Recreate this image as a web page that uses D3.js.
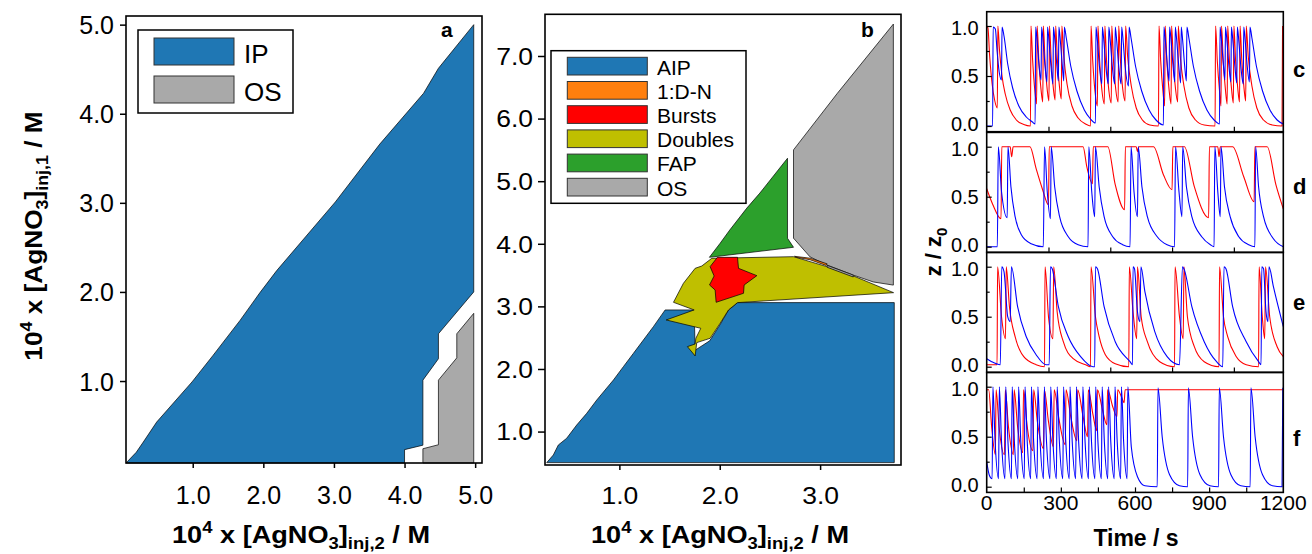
<!DOCTYPE html>
<html>
<head>
<meta charset="utf-8">
<script src="https://cdn.jsdelivr.net/npm/d3@7"></script>
<style>
  body { margin: 0; background: #fff; }
  svg { display: block; }
  text { font-family: "Liberation Sans", Arial, sans-serif; fill: #000; }
</style>
</head>
<body>
<svg id="fig" width="1312" height="554"></svg>
<script>
// ---------------- data ----------------
// Panel a: regions in the ([AgNO3]inj,2 , [AgNO3]inj,1) plane, units 1e-4 M
const regionIP_a = [[0.055,0.08],[0.2,0.2],[0.3,0.315],[0.49,0.54],[0.99,0.99],[1.29,1.29],[1.67,1.68],[1.95,1.99],[2.19,2.24],[3.02,3.01],[3.65,3.66],[4.27,4.23],[4.48,4.51],[4.98,5.0],
  [4.98,2.0],[4.48,1.53],[4.48,1.25],[4.26,1.01],[4.26,0.28],[4.0,0.23],[4.0,0.08]];
const regionOS_a = [[4.98,1.76],[4.74,1.53],[4.74,1.26],[4.48,1.01],[4.48,0.285],[4.26,0.24],[4.26,0.08],[4.98,0.08]];
const legendA = ["IP", "OS"];
const ticksAx = [1, 2, 3, 4, 5];
const ticksAy = [1, 2, 3, 4, 5];

// Panel b: regions of the second map
const regionAIP = [[0.276,0.504],[0.342,0.626],[0.392,0.786],[0.475,0.893],[0.575,1.105],[0.675,1.292],[0.775,1.505],[0.941,1.824],[1.04,2.037],[1.14,2.25],[1.339,2.676],[1.456,2.943],
  [1.745,2.943],[1.755,2.3],[1.9,2.45],[2.0,2.7],[2.087,2.94],[2.177,3.06],[3.739,3.06],[3.739,0.504]];
const regionDoubles = [[1.821,3.645],[1.921,3.768],[2.735,3.794],[3.067,3.635],[3.333,3.486],[3.732,3.219],[2.177,3.06],[2.087,2.943],[2.004,2.73],[1.904,2.49],[1.771,2.421],
  [1.755,2.208],[1.678,2.357],[1.755,2.399],[1.762,2.49],[1.811,2.65],[1.466,2.783],[1.745,2.943],[1.539,3.065],[1.638,3.368],[1.755,3.608]];
const regionBursts = [[1.904,3.635],[1.977,3.784],[2.177,3.784],[2.187,3.608],[2.37,3.491],[2.243,3.342],[2.237,3.209],[1.964,3.065],[1.954,3.262],[1.898,3.342],[1.944,3.486]];
const regionDN = [[2.745,3.80],[2.9,3.77],[3.07,3.68],[3.06,3.655],[2.9,3.745],[2.76,3.785]];
const regionOSthin = [[3.07,3.655],[3.33,3.50],[3.33,3.47],[3.07,3.625]];
const regionFAP = [[2.675,5.366],[2.675,4.088],[2.735,3.944],[1.897,3.784],[2.004,4.008],[2.10,4.22],[2.27,4.57],[2.40,4.81]];
const regionOS_b = [[3.73,7.51],[3.17,6.40],[2.735,5.50],[2.735,4.09],[2.90,3.79],[3.07,3.66],[3.33,3.50],[3.53,3.39],[3.73,3.34]];
const legendB = ["AIP", "1:D-N", "Bursts", "Doubles", "FAP", "OS"];
const ticksBx = [1, 2, 3];
const ticksBy = [1, 2, 3, 4, 5, 6, 7];

// Panels c-f: normalised z/z0 against time (s) for the two oscillators
const traceC_red = [[0,1.0],[5,0.98],[12,0.7],[22,0.42],[32,0.26],[43,0.18],[45,1.0],[52,0.75],[62,0.5],[75,0.32],[95,0.16],[120,0.06],[150,0.015],[177,0.0],
  [179,1.0],[186,0.65],[195,0.35],[202,0.22],[204,1.0],[211,0.65],[220,0.36],[227,0.24],[229,1.0],[236,0.65],[245,0.36],[252,0.25],[254,1.0],[261,0.65],[270,0.37],[277,0.26],
  [279,1.0],[286,0.66],[295,0.38],[302,0.27],[304,1.0],[312,0.7],[325,0.42],[345,0.2],[370,0.08],[400,0.02],[420,0.0],
  [422,1.0],[429,0.65],[438,0.35],[448,0.2],[450,1.0],[457,0.65],[466,0.36],[476,0.22],[478,1.0],[485,0.65],[494,0.36],[504,0.23],[506,1.0],[513,0.65],[522,0.37],[532,0.24],
  [534,1.0],[541,0.66],[550,0.38],[560,0.25],[562,1.0],[570,0.7],[585,0.4],[605,0.18],[630,0.06],[660,0.01],[695,0.0],
  [697,1.0],[704,0.65],[713,0.35],[720,0.2],[722,1.0],[729,0.65],[738,0.36],[746,0.22],[748,1.0],[755,0.65],[764,0.37],[773,0.24],[775,1.0],[783,0.7],[798,0.4],[818,0.18],[845,0.06],[880,0.01],[924,0.0],
  [926,1.0],[933,0.65],[942,0.35],[948,0.2],[950,1.0],[957,0.65],[966,0.36],[973,0.22],[975,1.0],[982,0.65],[991,0.36],[998,0.23],[1000,1.0],[1007,0.65],[1016,0.37],[1023,0.24],
  [1025,1.0],[1032,0.66],[1041,0.38],[1048,0.25],[1050,1.0],[1058,0.7],[1073,0.4],[1093,0.18],[1120,0.06],[1155,0.01],[1195,0.0],[1197,1.0]];
const traceC_blue = [[0,0.0],[24,0.0],[26,0.99],[35,0.97],[42,0.75],[50,0.55],[60,0.46],[62,0.99],[70,0.9],[85,0.62],[105,0.38],[130,0.2],[160,0.09],[185,0.04],[196,0.02],
  [198,0.99],[204,0.85],[212,0.6],[220,0.46],[222,0.99],[228,0.85],[236,0.6],[244,0.44],[246,0.99],[252,0.85],[260,0.6],[268,0.42],[270,0.99],[276,0.85],[284,0.6],[290,0.45],
  [292,0.99],[298,0.85],[306,0.6],[312,0.45],[314,0.99],[322,0.88],[340,0.6],[365,0.35],[395,0.16],[420,0.07],[440,0.03],
  [442,0.99],[448,0.85],[456,0.6],[466,0.42],[468,0.99],[474,0.85],[482,0.6],[492,0.42],[494,0.99],[500,0.85],[508,0.6],[518,0.42],[520,0.99],[526,0.85],[534,0.6],[544,0.42],
  [546,0.99],[552,0.85],[560,0.6],[574,0.4],[576,0.99],[584,0.88],[602,0.6],[627,0.35],[657,0.16],[685,0.06],[715,0.01],
  [717,0.99],[723,0.85],[731,0.6],[738,0.45],[740,0.99],[746,0.85],[754,0.6],[761,0.44],[763,0.99],[769,0.85],[777,0.6],[785,0.43],[787,0.99],[793,0.85],[801,0.6],[808,0.45],
  [810,0.99],[818,0.88],[836,0.6],[861,0.35],[891,0.16],[920,0.06],[942,0.02],
  [944,0.99],[950,0.85],[958,0.6],[964,0.46],[966,0.99],[972,0.85],[980,0.6],[988,0.44],[990,0.99],[996,0.85],[1004,0.6],[1012,0.43],[1014,0.99],[1020,0.85],[1028,0.6],[1038,0.42],
  [1040,0.99],[1046,0.85],[1054,0.6],[1063,0.44],[1065,0.99],[1073,0.88],[1091,0.6],[1116,0.35],[1146,0.16],[1175,0.06],[1200,0.02]];
const traceD_red = [[0,0.58],[25,0.42],[58,0.28],[61,1.0],[95,1.0],[101,0.9],[107,1.0],[175,1.0],[200,0.78],[225,0.58],[250,0.42],[253,1.0],[390,1.0],[405,0.8],[428,0.63],[431,1.0],[490,1.0],[520,0.62],[558,0.37],[561,1.0],[605,1.0],[610,0.95],[615,1.0],[675,1.0],[715,0.72],[750,0.57],[753,1.0],[800,1.0],[840,0.6],[898,0.29],[901,1.0],[935,1.0],[940,0.9],[945,1.0],[995,1.0],[1040,0.7],[1082,0.45],[1085,1.0],[1135,1.0],[1170,0.62],[1200,0.38]];
const traceD_blue = [[0,0.0],[43,0.0],[47,1.0],[60,0.55],[83,0.29],[86,1.0],[98,0.6],[115,0.3],[140,0.12],[180,0.03],[229,0.0],[234,1.0],[245,0.55],[258,0.28],[261,1.0],[275,0.6],[295,0.3],[330,0.1],[370,0.02],[410,0.0],
  [413,1.0],[425,0.55],[437,0.3],[440,1.0],[455,0.6],[475,0.3],[510,0.1],[550,0.02],[580,0.0],[584,1.0],[596,0.55],[610,0.3],[613,1.0],[628,0.6],[650,0.3],[690,0.1],[730,0.02],[760,0.0],
  [764,1.0],[778,0.55],[790,0.3],[793,1.0],[808,0.6],[830,0.3],[870,0.1],[905,0.02],[920,0.0],[923,1.0],[935,0.55],[945,0.3],[948,1.0],[962,0.6],[985,0.3],[1020,0.1],[1060,0.02],[1085,0.0],[1088,1.0],[1100,0.6],[1120,0.3],[1160,0.08],[1200,0.0]];
const traceE_red = [[0,0.02],[42,0.02],[44,1.0],[60,0.5],[76,0.28],[79,1.0],[92,0.6],[115,0.3],[150,0.1],[200,0.02],[234,0.0],[236,1.0],[250,0.5],[268,0.28],[271,1.0],[285,0.55],[310,0.25],[350,0.08],[400,0.02],[420,0.0],
  [422,1.0],[440,0.5],[455,0.3],[480,0.12],[520,0.03],[575,0.0],[577,1.0],[592,0.55],[607,0.28],[610,1.0],[625,0.5],[650,0.25],[700,0.05],[760,0.0],[762,1.0],[780,0.5],[795,0.28],[798,1.0],[812,0.5],[840,0.2],[880,0.05],[940,0.0],
  [942,1.0],[958,0.5],[975,0.3],[1010,0.1],[1050,0.02],[1100,0.0],[1102,1.0],[1115,0.5],[1125,0.28],[1128,1.0],[1145,0.5],[1175,0.2],[1200,0.1]];
const traceE_blue = [[0,0.08],[20,0.05],[55,0.02],[61,1.0],[70,0.95],[85,0.5],[95,0.45],[100,1.0],[125,0.6],[160,0.3],[200,0.12],[240,0.02],[253,0.02],[258,1.0],[265,0.98],[290,0.6],[330,0.3],[380,0.1],[430,0.0],
  [437,0.0],[440,1.0],[448,0.98],[475,0.6],[520,0.25],[580,0.05],[590,0.02],[592,1.0],[598,0.98],[610,0.55],[620,0.45],[624,1.0],[640,0.75],[680,0.35],[730,0.1],[780,0.02],[792,1.0],[798,0.98],[830,0.6],[880,0.25],[930,0.05],
  [955,0.0],[960,1.0],[968,0.98],[995,0.6],[1050,0.25],[1100,0.05],[1110,0.02],[1113,1.0],[1120,0.98],[1130,0.55],[1138,0.45],[1142,1.0],[1160,0.8],[1200,0.4]];
const traceF_red = [[0,0.97],[8,0.97],[20,0.6],[35,0.32],[38,0.97],[50,0.6],[72,0.32],[75,0.97],[88,0.6],[108,0.32],[111,0.97],[125,0.6],[146,0.34],[149,0.97],[163,0.62],[187,0.36],[190,0.97],[205,0.65],[230,0.38],
  [233,0.97],[250,0.65],[270,0.4],[273,0.97],[292,0.68],[318,0.42],[321,0.97],[340,0.7],[365,0.46],[368,0.97],[390,0.7],[408,0.5],[411,0.97],[430,0.72],[445,0.56],[448,0.97],[470,0.75],[486,0.62],[489,0.97],[510,0.8],[527,0.7],[530,0.97],[545,0.9],[556,0.84],[560,0.97],[1200,0.97]];
const traceF_blue = [[0,0.25],[10,0.12],[22,0.08],[25,1.0],[34,0.45],[48,0.08],[51,1.0],[60,0.45],[74,0.08],[77,1.0],[86,0.45],[100,0.08],[103,1.0],[112,0.45],[126,0.08],[129,1.0],[138,0.45],[152,0.08],
  [155,1.0],[164,0.45],[178,0.08],[181,1.0],[190,0.45],[204,0.08],[207,1.0],[216,0.45],[230,0.08],[233,1.0],[242,0.45],[256,0.08],[259,1.0],[268,0.45],[282,0.08],[285,1.0],[294,0.45],[308,0.08],
  [311,1.0],[320,0.45],[334,0.08],[337,1.0],[346,0.45],[360,0.08],[363,1.0],[372,0.45],[386,0.08],[389,1.0],[398,0.45],[412,0.08],[415,1.0],[424,0.45],[438,0.08],[441,1.0],[450,0.45],[464,0.08],
  [467,1.0],[476,0.45],[490,0.08],[493,1.0],[502,0.45],[516,0.08],[519,1.0],[528,0.45],[542,0.08],[545,1.0],[554,0.45],[568,0.08],[571,1.0],[585,0.4],[610,0.1],[640,0.01],[690,0.0],
  [693,0.99],[710,0.5],[740,0.12],[780,0.01],[813,0.0],[816,0.99],[833,0.5],[863,0.12],[903,0.01],[938,0.0],[941,0.99],[958,0.5],[988,0.12],[1028,0.01],[1066,0.0],[1069,0.99],[1086,0.5],[1116,0.12],[1156,0.01],[1195,0.0],[1198,0.99]];
const timeTicks = [0, 300, 600, 900, 1200];
const zTicks = [0, 0.5, 1.0];

// ---------------- drawing ----------------
const svg = d3.select("#fig");
const FONT = "'Liberation Sans', Arial, sans-serif";

// bold text with super/subscript pieces: parts = [[string, "n" | "sup" | "sub"], ...]
function richText(g, parts, size) {
  const t = g.append("text").attr("font-size", size).attr("font-weight", "bold");
  let shift = 0;
  parts.forEach(([s, kind]) => {
    const target = kind === "sup" ? -0.42 * size : kind === "sub" ? 0.28 * size : 0;
    t.append("tspan")
      .attr("dy", target - shift)
      .attr("font-size", kind === "n" ? size : size * 0.68)
      .text(s);
    shift = target;
  });
  return t;
}

// widen a text element horizontally by factor k (keeps its anchor)
function widen(sel, k) {
  sel.each(function () {
    const len = this.getComputedTextLength();
    d3.select(this).attr("textLength", len * k).attr("lengthAdjust", "spacingAndGlyphs");
  });
}

function frame(g, x0, y0, x1, y1) {
  g.append("rect").attr("x", x0).attr("y", y0).attr("width", x1 - x0).attr("height", y1 - y0)
    .attr("fill", "none").attr("stroke", "#000").attr("stroke-width", 1.6);
}

function regionPath(data, x, y) {
  return d3.line().x(d => x(d[0])).y(d => y(d[1])).curve(d3.curveLinearClosed)(data);
}

const concLabel = idx => [["10", "n"], ["4", "sup"], [" x [AgNO", "n"], ["3", "sub"], ["]", "n"], ["inj," + idx, "sub"], [" / M", "n"]];

const regionColor = {
  AIP: "#1f77b4", IP: "#1f77b4", DN: "#ff7f0e", Bursts: "#ff0000",
  Doubles: "#bfbf00", FAP: "#2ca02c", OS: "#a9a9a9"
};

// ---------- panel a ----------
{
  const L = 126, T = 16, R = 482, B = 463;
  const x = d3.scaleLinear().domain([0.055, 5.097]).range([L, R]);
  const y = d3.scaleLinear().domain([0.08, 5.097]).range([B, T]);
  const g = svg.append("g");
  g.append("path").attr("d", regionPath(regionIP_a, x, y)).attr("fill", regionColor.IP).attr("stroke", "#000").attr("stroke-width", 0.7);
  g.append("path").attr("d", regionPath(regionOS_a, x, y)).attr("fill", regionColor.OS).attr("stroke", "#000").attr("stroke-width", 0.7);
  frame(g, L, T, R, B);

  const ax = g.append("g").attr("transform", `translate(0,${B})`)
    .call(d3.axisBottom(x).tickValues(ticksAx).tickSize(5).tickPadding(18).tickFormat(d3.format(".1f")));
  const ay = g.append("g").attr("transform", `translate(${L},0)`)
    .call(d3.axisLeft(y).tickValues(ticksAy).tickSize(6).tickPadding(6).tickFormat(d3.format(".1f")));
  [ax, ay].forEach(a => {
    a.select(".domain").remove();
    a.selectAll("line").attr("stroke", "#000").attr("stroke-width", 1.5);
    a.selectAll("text").attr("font-family", FONT).attr("font-size", 25).attr("fill", "#000");
  });
  ay.selectAll("text").attr("dy", "0.36em");

  // legend
  g.append("rect").attr("x", 138).attr("y", 30).attr("width", 155).attr("height", 83)
    .attr("fill", "#fff").attr("stroke", "#000").attr("stroke-width", 1.5);
  legendA.forEach((name, i) => {
    g.append("rect").attr("x", 154).attr("y", 38 + i * 38).attr("width", 80).attr("height", 27)
      .attr("fill", regionColor[name]).attr("stroke", "#333").attr("stroke-width", 1);
    g.append("text").attr("x", 244).attr("y", 63 + i * 38).attr("font-size", 26).text(name);
  });
  g.append("text").attr("x", 441).attr("y", 37).attr("font-size", 21).attr("font-weight", "bold").text("a");

  const xl = richText(g, concLabel(2), 23);
  xl.attr("x", 301).attr("y", 543).attr("text-anchor", "middle");
  widen(xl, 1.18);
  const yl = richText(g, concLabel(1), 23);
  yl.attr("text-anchor", "middle").attr("transform", "translate(42,236) rotate(-90)");
  widen(yl, 1.14);
}

// ---------- panel b ----------
{
  const L = 545, T = 14.3, R = 901, B = 465;
  const x = d3.scaleLinear().domain([0.259, 3.806]).range([L, R]);
  const y = d3.scaleLinear().domain([0.466, 7.666]).range([B, T]);
  const g = svg.append("g");
  const draw = (data, col) => g.append("path").attr("d", regionPath(data, x, y)).attr("fill", col).attr("stroke", "#000").attr("stroke-width", 0.7);
  draw(regionAIP, regionColor.AIP);
  draw(regionDoubles, regionColor.Doubles);
  draw(regionBursts, regionColor.Bursts);
  draw(regionFAP, regionColor.FAP);
  draw(regionOS_b, regionColor.OS);
  draw(regionDN, regionColor.DN);
  draw(regionOSthin, regionColor.OS);
  frame(g, L, T, R, B);

  const ax = g.append("g").attr("transform", `translate(0,${B})`)
    .call(d3.axisBottom(x).tickValues(ticksBx).tickSize(5).tickPadding(18).tickFormat(d3.format(".1f")));
  const ay = g.append("g").attr("transform", `translate(${L},0)`)
    .call(d3.axisLeft(y).tickValues(ticksBy).tickSize(7).tickPadding(5).tickFormat(d3.format(".1f")));
  [ax, ay].forEach(a => {
    a.select(".domain").remove();
    a.selectAll("line").attr("stroke", "#000").attr("stroke-width", 1.5);
    a.selectAll("text").attr("font-family", FONT).attr("font-size", 23).attr("fill", "#000");
  });
  ay.selectAll("text").attr("dy", "0.36em");
  widen(ax.selectAll("text"), 1.15);
  widen(ay.selectAll("text"), 1.15);

  g.append("rect").attr("x", 551).attr("y", 50.7).attr("width", 195).attr("height", 152.6)
    .attr("fill", "#fff").attr("stroke", "#000").attr("stroke-width", 1.5);
  const keys = ["AIP", "DN", "Bursts", "Doubles", "FAP", "OS"];
  legendB.forEach((name, i) => {
    g.append("rect").attr("x", 567.3).attr("y", 57.3 + i * 24.2).attr("width", 80).attr("height", 17.7)
      .attr("fill", regionColor[keys[i]]).attr("stroke", "#333").attr("stroke-width", 1);
    g.append("text").attr("x", 657).attr("y", 74.5 + i * 24.2).attr("font-size", 21).text(name);
  });
  g.append("text").attr("x", 861).attr("y", 36.5).attr("font-size", 21).attr("font-weight", "bold").text("b");

  const xl = richText(g, concLabel(2), 23);
  xl.attr("x", 720).attr("y", 543).attr("text-anchor", "middle");
  widen(xl, 1.18);
}

// ---------- panels c-f ----------
{
  const L = 986.7, R = 1283.3;
  const x = d3.scaleLinear().domain([0, 1200]).range([L, R]);
  const panels = [
    { red: traceC_red, blue: traceC_blue, zero: 126, tag: "c", tagY: 77 },
    { red: traceD_red, blue: traceD_blue, zero: 246.7, tag: "d", tagY: 194 },
    { red: traceE_red, blue: traceE_blue, zero: 366.7, tag: "e", tagY: 310 },
    { red: traceF_red, blue: traceF_blue, zero: 486.7, tag: "f", tagY: 446 }
  ];
  panels.forEach((p, i) => {
    const y = d3.scaleLinear().domain([-0.057, 1.143]).range([p.zero + 5.7, p.zero - 114.3]);
    const g = svg.append("g");
    const top = y(1.143), bot = y(-0.057);
    const clipId = "clip" + i;
    g.append("clipPath").attr("id", clipId).append("rect").attr("x", L).attr("y", top).attr("width", R - L).attr("height", bot - top);
    const line = d3.line().x(d => x(d[0])).y(d => y(d[1])).curve(d3.curveMonotoneX);
    const lines = g.append("g").attr("clip-path", `url(#${clipId})`);
    lines.append("path").attr("d", line(p.red)).attr("fill", "none").attr("stroke", "#ff0000").attr("stroke-width", 1.1);
    lines.append("path").attr("d", line(p.blue)).attr("fill", "none").attr("stroke", "#0000ff").attr("stroke-width", 1.1);
    frame(g, L, top, R, bot);

    // y axis: majors labelled, minors between, all pointing inward
    const ay = g.append("g").attr("transform", `translate(${L},0)`)
      .call(d3.axisRight(y).tickValues(zTicks).tickSize(5).tickFormat(""));
    ay.select(".domain").remove();
    ay.selectAll("line").attr("stroke", "#000").attr("stroke-width", 1.2);
    g.append("g").attr("transform", `translate(${L},0)`)
      .call(d3.axisRight(y).tickValues([0.25, 0.75]).tickSize(3).tickFormat(""))
      .call(a => { a.select(".domain").remove(); a.selectAll("line").attr("stroke", "#000").attr("stroke-width", 1.2); });
    zTicks.forEach(v => {
      const nudge = v === 0 ? -2 : v === 1 ? 2 : 0;
      g.append("text").attr("x", L - 8).attr("y", y(v) + nudge).attr("dy", "0.36em").attr("text-anchor", "end")
        .attr("font-size", 20).text(d3.format(".1f")(v));
    });

    // bottom time ticks pointing inward
    const xt = i < 3 ? [250, 500, 750, 1000] : [150, 300, 450, 600, 750, 900, 1050];
    g.append("g").attr("transform", `translate(0,${bot})`)
      .call(d3.axisTop(x).tickValues(xt).tickSize(5).tickFormat(""))
      .call(a => { a.select(".domain").remove(); a.selectAll("line").attr("stroke", "#000").attr("stroke-width", 1.2); });

    g.append("text").attr("x", 1293).attr("y", p.tagY).attr("font-size", 22).attr("font-weight", "bold").text(p.tag);

    if (i === 3) {
      timeTicks.forEach(v => {
        g.append("text").attr("x", x(v)).attr("y", bot + 18).attr("text-anchor", "middle").attr("font-size", 21).text(v);
      });
      g.append("text").attr("x", 1136).attr("y", 546).attr("text-anchor", "middle").attr("font-size", 23).attr("font-weight", "bold").text("Time / s");
    }
  });
  const zl = richText(svg.append("g"), [["z / z", "n"], ["0", "sub"]], 22);
  zl.attr("text-anchor", "middle").attr("transform", "translate(941,252) rotate(-90)");
}
</script>
</body>
</html>
